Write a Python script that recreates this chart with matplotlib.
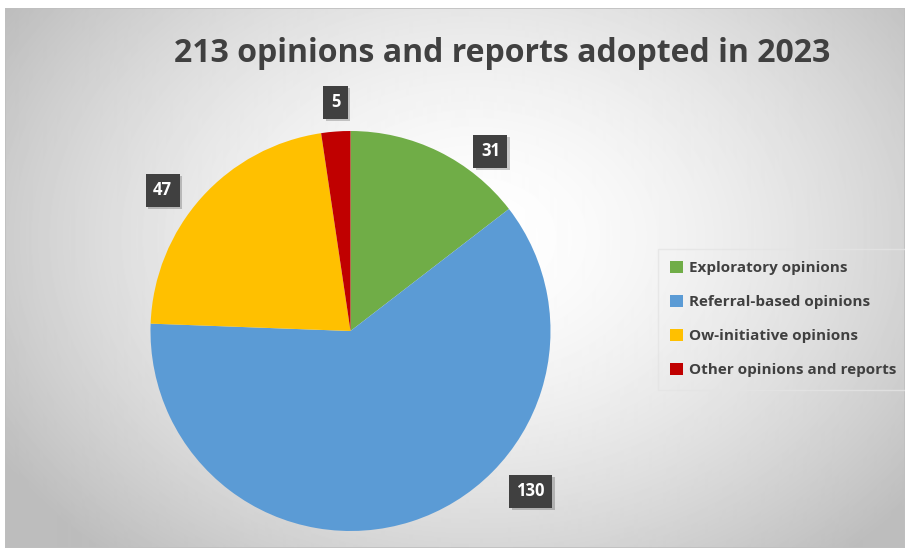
import numpy as np
import matplotlib.pyplot as plt
import matplotlib.patheffects as pe
from matplotlib.patches import Rectangle

categories = ['Exploratory opinions', 'Referral-based opinions',
              'Ow-initiative opinions', 'Other opinions and reports']
values = [31, 130, 47, 5]
colors = ['#70AD47', '#5B9BD5', '#FFC000', '#C00000']
title = '213 opinions and reports adopted in 2023'

# label box positions (data units, pie radius = 1)
label_pos = [(0.70, 0.90), (0.90, -0.80), (-0.94, 0.705), (-0.075, 1.145)]

plt.rcParams['font.family'] = ['Open Sans', 'DejaVu Sans']

fig = plt.figure(figsize=(9.05, 5.5), dpi=100)
fig.patch.set_facecolor('white')

# background with radial gradient
bg = fig.add_axes([5 / 905, 2 / 550, 900 / 905, 540 / 550])
ny, nx = 540, 900
yy, xx = np.mgrid[0:ny, 0:nx]
d = np.sqrt(((xx - 470) / 560) ** 2 + ((yy - 230) / 420) ** 2)
shade = np.clip(1.0 - 0.26 * d ** 1.6, 0.74, 1.0)
bg.imshow(shade, cmap='gray', vmin=0, vmax=1, aspect='auto', interpolation='bilinear')
bg.set_axis_off()
bg.add_patch(Rectangle((0, 0), 1, 1, transform=bg.transAxes, fill=False,
                       edgecolor='#bfbfbf', linewidth=1.2))

fig.text(502 / 905, 1 - 53 / 550, title, ha='center', va='center',
         fontsize=23, fontweight='bold', color='#404040')

ax = fig.add_axes([150 / 905, 19 / 550, 401 / 905, 400 / 550])
ax.set_facecolor('none')
wedges, _ = ax.pie(values, colors=colors, startangle=90, counterclock=False,
                   radius=1.0, wedgeprops=dict(linewidth=0))
ax.set_xlim(-1.0, 1.0)
ax.set_ylim(-1.0, 1.0)
ax.set_aspect('equal')

for v, (x, y) in zip(values, label_pos):
    t = ax.text(x, y, str(v), ha='center', va='center', fontsize=12,
                fontweight='bold', color='white', clip_on=False,
                bbox=dict(boxstyle='square,pad=0.45', facecolor='#404040',
                          edgecolor='none'))
    t.get_bbox_patch().set_path_effects([
        pe.SimplePatchShadow(offset=(2, -2), shadow_rgbFace='#000000', alpha=0.2),
        pe.Normal()])

leg = fig.legend(wedges, categories, loc='upper left',
                 bbox_to_anchor=(655 / 905, 1 - 246 / 550), frameon=True,
                 handlelength=0.8, handleheight=0.8, handletextpad=0.4,
                 labelspacing=1.3, borderpad=0.5,
                 prop=dict(size=11, weight='bold'), labelcolor='#404040')
leg.get_frame().set_facecolor('none')
leg.get_frame().set_edgecolor('#e4e4e4')
leg.get_frame().set_boxstyle('square')

fig.savefig('out.png', dpi=100)
